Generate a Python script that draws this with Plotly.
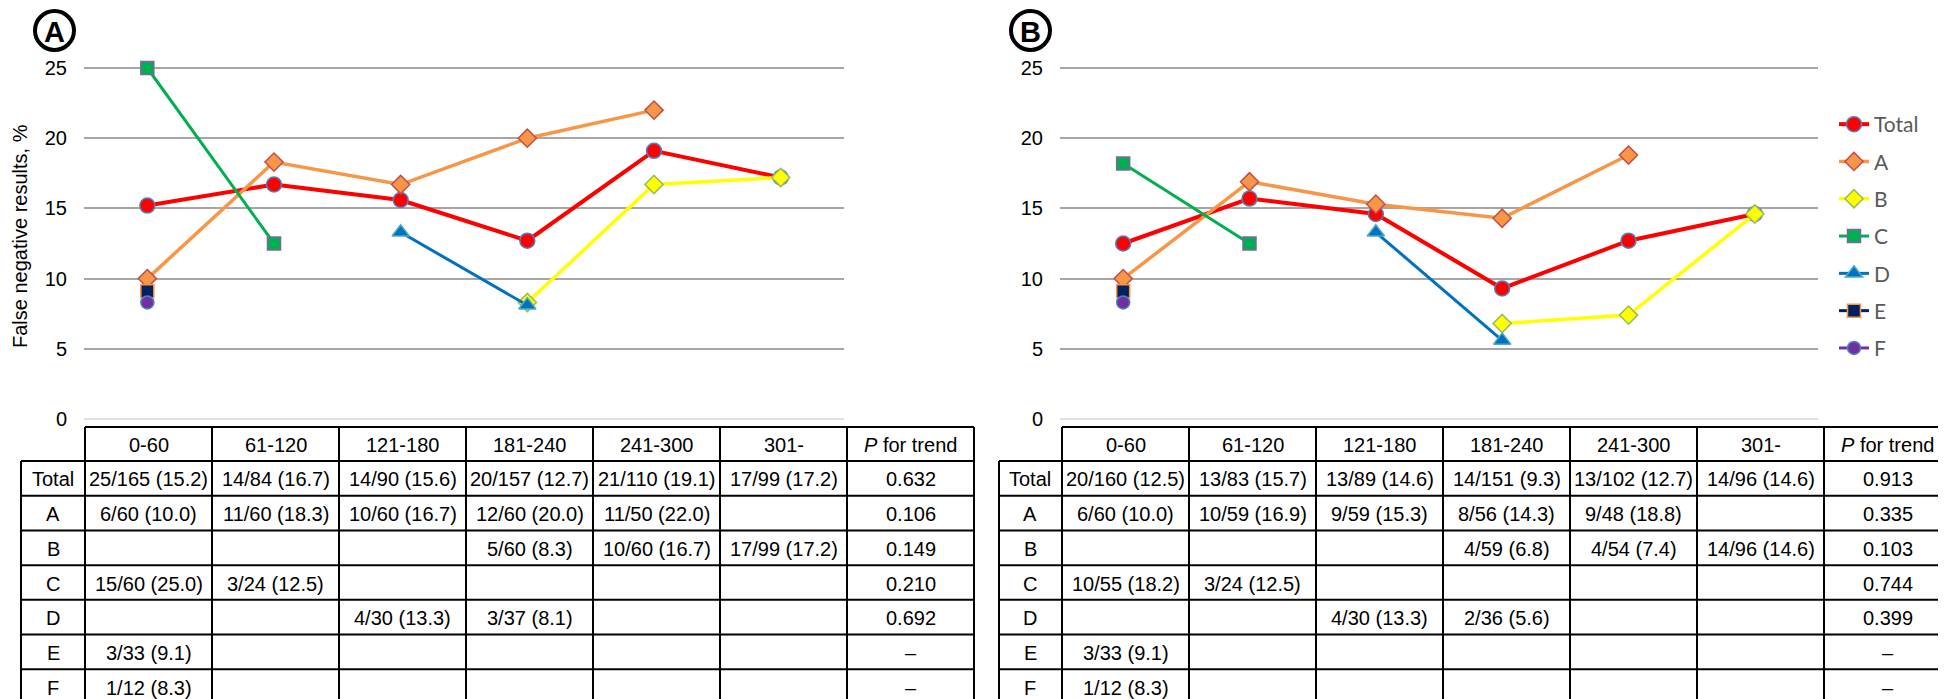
import plotly.graph_objects as go

W, H = 1946, 699

# ---------------- data ----------------
categories = ["0-60", "61-120", "121-180", "181-240", "241-300", "301-"]
series_names = ["Total", "A", "B", "C", "D", "E", "F"]

# Panel A (%)
a_total = [15.2, 16.7, 15.6, 12.7, 19.1, 17.2]
a_A = [10.0, 18.3, 16.7, 20.0, 22.0, None]
a_B = [None, None, None, 8.3, 16.7, 17.2]
a_C = [25.0, 12.5, None, None, None, None]
a_D = [None, None, 13.3, 8.1, None, None]
a_E = [9.1, None, None, None, None, None]
a_F = [8.3, None, None, None, None, None]

# Panel B (%)
b_total = [12.5, 15.7, 14.6, 9.3, 12.7, 14.6]
b_A = [10.0, 16.9, 15.3, 14.3, 18.8, None]
b_B = [None, None, None, 6.8, 7.4, 14.6]
b_C = [18.2, 12.5, None, None, None, None]
b_D = [None, None, 13.3, 5.6, None, None]
b_E = [9.1, None, None, None, None, None]
b_F = [8.3, None, None, None, None, None]

# Table texts
table_header = categories + ["<i>P</i> for trend"]
a_table = {
    "Total": ["25/165 (15.2)", "14/84 (16.7)", "14/90 (15.6)", "20/157 (12.7)", "21/110 (19.1)", "17/99 (17.2)", "0.632"],
    "A": ["6/60 (10.0)", "11/60 (18.3)", "10/60 (16.7)", "12/60 (20.0)", "11/50 (22.0)", "", "0.106"],
    "B": ["", "", "", "5/60 (8.3)", "10/60 (16.7)", "17/99 (17.2)", "0.149"],
    "C": ["15/60 (25.0)", "3/24 (12.5)", "", "", "", "", "0.210"],
    "D": ["", "", "4/30 (13.3)", "3/37 (8.1)", "", "", "0.692"],
    "E": ["3/33 (9.1)", "", "", "", "", "", "–"],
    "F": ["1/12 (8.3)", "", "", "", "", "", "–"],
}
b_table = {
    "Total": ["20/160 (12.5)", "13/83 (15.7)", "13/89 (14.6)", "14/151 (9.3)", "13/102 (12.7)", "14/96 (14.6)", "0.913"],
    "A": ["6/60 (10.0)", "10/59 (16.9)", "9/59 (15.3)", "8/56 (14.3)", "9/48 (18.8)", "", "0.335"],
    "B": ["", "", "", "4/59 (6.8)", "4/54 (7.4)", "14/96 (14.6)", "0.103"],
    "C": ["10/55 (18.2)", "3/24 (12.5)", "", "", "", "", "0.744"],
    "D": ["", "", "4/30 (13.3)", "2/36 (5.6)", "", "", "0.399"],
    "E": ["3/33 (9.1)", "", "", "", "", "", "–"],
    "F": ["1/12 (8.3)", "", "", "", "", "", "–"],
}
y_ticks = [0, 5, 10, 15, 20, 25]
y_title = "False negative results, %"

# ---------------- styles ----------------
styles = {
    "Total": dict(line=dict(color="#FF0000", width=4),
                  marker=dict(symbol="circle", size=15, color="#FF0000", line=dict(color="#4F81BD", width=1.5))),
    "A": dict(line=dict(color="#F79646", width=3.5),
              marker=dict(symbol="diamond", size=14, color="#F79646", line=dict(color="#C0504D", width=1.5))),
    "B": dict(line=dict(color="#FFFF00", width=3.5),
              marker=dict(symbol="diamond", size=14, color="#FFFF00", line=dict(color="#9BBB59", width=1.5))),
    "C": dict(line=dict(color="#00B050", width=3),
              marker=dict(symbol="square", size=13, color="#00B050", line=dict(color="#8064A2", width=1.5))),
    "D": dict(line=dict(color="#0070C0", width=3),
              marker=dict(symbol="triangle-up", size=15, color="#0070C0", line=dict(color="#4BACC6", width=1.5))),
    "E": dict(line=dict(color="#002060", width=3),
              marker=dict(symbol="square", size=13, color="#002060", line=dict(color="#F79646", width=1.5))),
    "F": dict(line=dict(color="#7030A0", width=3),
              marker=dict(symbol="circle", size=13, color="#7030A0", line=dict(color="#4F81BD", width=1.5))),
}

FONT = "Liberation Sans, Arial, sans-serif"

def px(x):
    return x / W

def py(y):
    return 1 - y / H

fig = go.Figure()

panel_a = [a_total, a_A, a_B, a_C, a_D, a_E, a_F]
panel_b = [b_total, b_A, b_B, b_C, b_D, b_E, b_F]

for name, vals in zip(series_names, panel_a):
    fig.add_trace(go.Scatter(x=categories, y=vals, name=name, mode="lines+markers",
                             xaxis="x", yaxis="y", showlegend=False, cliponaxis=False,
                             **styles[name]))
for name, vals in zip(series_names, panel_b):
    fig.add_trace(go.Scatter(x=categories, y=vals, name=name, mode="lines+markers",
                             xaxis="x2", yaxis="y2", showlegend=True, cliponaxis=False,
                             legendgroup=name, **styles[name]))

# plot geometry (pixels)
y0_px, y25_px = 411, 60
unit = (y0_px - y25_px) / 25.0
ylo, yhi = -1, 26
dom_bottom = py(y0_px + unit * (0 - ylo))
dom_top = py(y25_px - unit * (yhi - 25))

yaxis_common = dict(range=[ylo, yhi], domain=[dom_bottom, dom_top], tickvals=y_ticks,
                    showgrid=True, gridcolor="#A6A6A6", gridwidth=1.5,
                    zeroline=True, zerolinecolor="#E0E0E0", zerolinewidth=1.5,
                    showline=False, ticks="", ticklabelstandoff=16,
                    tickfont=dict(family=FONT, size=20, color="#000000"))
xaxis_common = dict(type="category", categoryorder="array", categoryarray=categories,
                    range=[-0.5, 5.5], showgrid=False, zeroline=False, showline=False,
                    showticklabels=False, ticks="")

fig.update_layout(
    width=W, height=H, margin=dict(l=0, r=0, t=0, b=0),
    paper_bgcolor="white", plot_bgcolor="rgba(0,0,0,0)",
    xaxis=dict(domain=[px(76), px(836)], **xaxis_common),
    xaxis2=dict(domain=[px(1052), px(1810)], anchor="y2", **xaxis_common),
    yaxis=dict(anchor="x", **yaxis_common),
    yaxis2=dict(anchor="x2", **yaxis_common),
    legend=dict(x=px(1826), y=py(96), xanchor="left", yanchor="top",
                font=dict(family="Lato, Open Sans, sans-serif", size=21, color="#595959"),
                tracegroupgap=7, bgcolor="rgba(0,0,0,0)", traceorder="grouped",
                itemwidth=30),
    showlegend=True,
)

shapes = []
annotations = []

# y-axis title
annotations.append(dict(x=px(12), y=py(228), xref="paper", yref="paper", text=y_title,
                        textangle=-90, showarrow=False, xanchor="center", yanchor="middle",
                        font=dict(family=FONT, size=20, color="#000000")))

# Circled panel labels
for label, cx in (("A", 46.5), ("B", 1022.5)):
    r = 19.5
    shapes.append(dict(type="circle", xref="paper", yref="paper",
                       x0=px(cx - r), x1=px(cx + r), y0=py(22.5 + r), y1=py(22.5 - r),
                       line=dict(color="black", width=4)))
    annotations.append(dict(x=px(cx), y=py(23.5), xref="paper", yref="paper", text="<b>%s</b>" % label,
                            showarrow=False, xanchor="center", yanchor="middle",
                            font=dict(family=FONT, size=29, color="black")))

# Tables
row_top = 419
header_bottom = 453
row_h = (696 - 453) / 7.0
col_w = 127
row_labels = series_names

def draw_table(left, first_col, table):
    col_edges = [first_col + col_w * i for i in range(8)]
    row_edges = [header_bottom + row_h * k for k in range(8)]
    lw = 2
    shapes.append(dict(type="line", xref="paper", yref="paper", x0=px(col_edges[0]), x1=px(col_edges[-1]),
                       y0=py(row_top), y1=py(row_top), line=dict(color="black", width=lw)))
    for ry in row_edges:
        shapes.append(dict(type="line", xref="paper", yref="paper", x0=px(left), x1=px(col_edges[-1]),
                           y0=py(ry), y1=py(ry), line=dict(color="black", width=lw)))
    shapes.append(dict(type="line", xref="paper", yref="paper", x0=px(left), x1=px(left),
                       y0=py(header_bottom), y1=py(row_edges[-1]), line=dict(color="black", width=lw)))
    for cx in col_edges:
        shapes.append(dict(type="line", xref="paper", yref="paper", x0=px(cx), x1=px(cx),
                           y0=py(row_top), y1=py(row_edges[-1]), line=dict(color="black", width=lw)))
    for i, t in enumerate(table_header):
        annotations.append(dict(x=px(col_edges[i] + col_w / 2), y=py((row_top + header_bottom) / 2 + 1),
                                xref="paper", yref="paper", text=t, showarrow=False,
                                xanchor="center", yanchor="middle",
                                font=dict(family=FONT, size=20, color="black")))
    for k, name in enumerate(row_labels):
        cy = header_bottom + row_h * (k + 0.5) + 1
        annotations.append(dict(x=px((left + first_col) / 2), y=py(cy), xref="paper", yref="paper",
                                text=name, showarrow=False, xanchor="center", yanchor="middle",
                                font=dict(family=FONT, size=20, color="black")))
        for i, t in enumerate(table[name]):
            if t:
                annotations.append(dict(x=px(col_edges[i] + col_w / 2), y=py(cy), xref="paper", yref="paper",
                                        text=t, showarrow=False, xanchor="center", yanchor="middle",
                                        font=dict(family=FONT, size=20, color="black")))

draw_table(13, 77, a_table)
draw_table(991, 1054, b_table)

fig.update_layout(shapes=shapes, annotations=annotations)
fig.write_html("out.html")
